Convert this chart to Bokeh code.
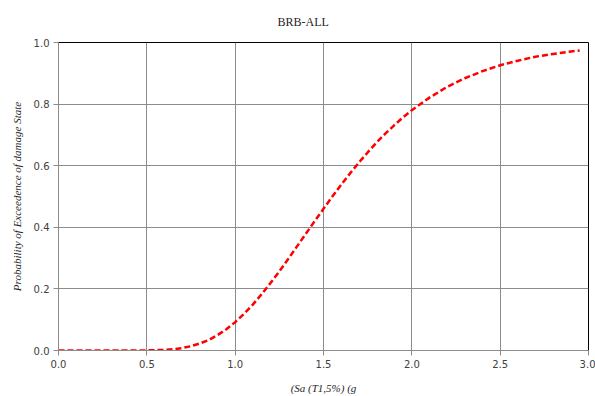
from bokeh.plotting import figure
from bokeh.models import FixedTicker, NumeralTickFormatter, Range1d
from bokeh.embed import file_html
from bokeh.resources import INLINE

# Data (fragility curve)
sa = [0.0, 0.1, 0.2, 0.3, 0.4, 0.5, 0.6, 0.65, 0.7, 0.75, 0.8, 0.85, 0.9, 0.95,
      1.0, 1.05, 1.1, 1.15, 1.2, 1.25, 1.3, 1.35, 1.4, 1.45, 1.5, 1.55, 1.6,
      1.65, 1.7, 1.75, 1.8, 1.85, 1.9, 1.95, 2.0, 2.1, 2.2, 2.3, 2.4, 2.5,
      2.6, 2.7, 2.8, 2.9, 2.95]
prob = [0.0, 0.0, 0.0, 0.0, 0.0, 0.0003, 0.002, 0.004, 0.008, 0.014, 0.023,
        0.034, 0.050, 0.069, 0.092, 0.119, 0.149, 0.183, 0.219, 0.257, 0.297,
        0.338, 0.379, 0.420, 0.460, 0.500, 0.538, 0.575, 0.610, 0.643, 0.675,
        0.704, 0.731, 0.757, 0.780, 0.821, 0.856, 0.884, 0.907, 0.926, 0.941,
        0.954, 0.963, 0.971, 0.974]
x_ticks = [0.0, 0.5, 1.0, 1.5, 2.0, 2.5, 3.0]
y_ticks = [0.0, 0.2, 0.4, 0.6, 0.8, 1.0]
title_text = "BRB-ALL"
x_label = "(Sa (T1,5%) (g"
y_label = "Probability of Exceedence of damage State"

p = figure(width=595, height=396, output_backend="svg", toolbar_location=None,
           x_range=Range1d(0, 3), y_range=Range1d(0, 1),
           min_border_left=58, min_border_right=7, min_border_top=42,
           min_border_bottom=43)
p.background_fill_color = "white"
p.border_fill_color = "white"
p.outline_line_color = "black"
p.outline_line_width = 1

p.line(sa, prob, line_color="#ff0000", line_width=2.5, line_dash="6 3")

grid_col = "#8c8c8c"
p.xgrid.ticker = FixedTicker(ticks=x_ticks)
p.ygrid.ticker = FixedTicker(ticks=y_ticks)
p.xgrid.grid_line_color = grid_col
p.ygrid.grid_line_color = grid_col
p.xgrid.grid_line_width = 1
p.ygrid.grid_line_width = 1

for ax, ticks in ((p.xaxis[0], x_ticks), (p.yaxis[0], y_ticks)):
    ax.ticker = FixedTicker(ticks=ticks)
    ax.formatter = NumeralTickFormatter(format="0.0")
    ax.axis_line_color = grid_col
    ax.major_tick_line_color = grid_col
    ax.major_tick_out = 5
    ax.major_tick_in = 0
    ax.minor_tick_line_color = None
    ax.major_label_text_font = "DejaVu Sans"
    ax.major_label_text_font_size = "10px"
    ax.major_label_text_color = "#404040"
    ax.axis_label_text_font = "Liberation Serif"
    ax.axis_label_text_font_style = "italic"
    ax.axis_label_text_font_size = "11px"
    ax.axis_label_text_color = "#262626"

p.xaxis.major_label_standoff = 4
p.yaxis.major_label_standoff = 4

p.yaxis.axis_label = y_label
p.yaxis.axis_label_standoff = 8
p.xaxis.axis_label = x_label
p.xaxis.axis_label_standoff = 11

p.title.text = title_text
p.title.align = "left"
p.title.offset = 219
p.title.vertical_align = "top"
p.title.text_font = "Liberation Serif"
p.title.text_font_style = "normal"
p.title.text_font_size = "12px"
p.title.text_color = "#262626"
p.title.standoff = 24

open("out.html", "w").write(file_html(p, INLINE))
